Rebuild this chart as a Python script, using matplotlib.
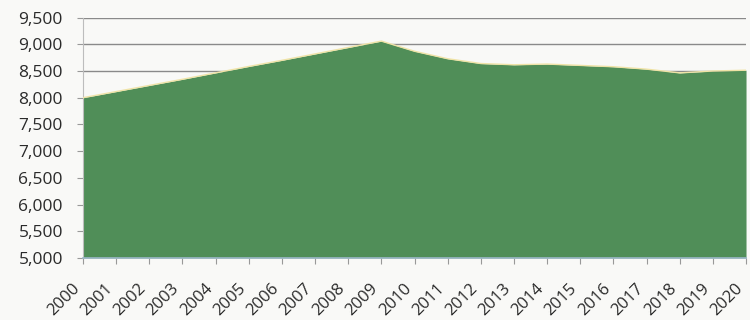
import matplotlib
matplotlib.use("Agg")
import matplotlib.pyplot as plt
from matplotlib.ticker import FuncFormatter

years = list(range(2000, 2021))
values = [8000, 8115, 8230, 8345, 8465, 8585, 8700, 8820, 8940, 9060,
          8870, 8730, 8640, 8617, 8630, 8605, 8580, 8535, 8465, 8500, 8515]
y_ticks = [5000, 5500, 6000, 6500, 7000, 7500, 8000, 8500, 9000, 9500]
x_labels = [str(y) for y in years]

plt.rcParams['font.family'] = ['Open Sans', 'DejaVu Sans']

bg = '#f9f9f7'
fig = plt.figure(figsize=(7.5, 3.2), dpi=100, facecolor=bg)
ax = fig.add_axes([0.1107, 0.194, 0.884, 0.751], facecolor=bg)

ax.fill_between(years, values, 5000, color='#508e58', zorder=2, linewidth=0)
ax.plot(years, values, color='#efe3a6', linewidth=1.0, zorder=3)

ax.set_xlim(2000, 2020)
ax.set_ylim(5000, 9500)
ax.set_yticks(y_ticks)
ax.yaxis.set_major_formatter(FuncFormatter(lambda v, p: f"{int(v):,}"))
ax.set_xticks(years)
ax.set_xticklabels(x_labels, rotation=45, ha='right', va='top', rotation_mode='default')

ax.grid(axis='y', color='#8a8a8a', linewidth=1.0, zorder=1)
ax.set_axisbelow(True)

for s in ['top', 'right']:
    ax.spines[s].set_visible(False)
ax.spines['left'].set_color('#bdbdbd')
ax.spines['left'].set_linewidth(0.8)
ax.spines['bottom'].set_color('#9bb7c8')
ax.spines['bottom'].set_linewidth(1.2)
ax.spines['bottom'].set_zorder(4)

ax.tick_params(axis='y', length=4.5, width=0.8, color='#999999', pad=10,
               labelsize=12.5, labelcolor='#2a2a2a')
ax.tick_params(axis='x', length=4.5, width=0.8, color='#999999', pad=12,
               labelsize=12, labelcolor='#2a2a2a')

fig.savefig('out.png', dpi=100, facecolor=bg)
